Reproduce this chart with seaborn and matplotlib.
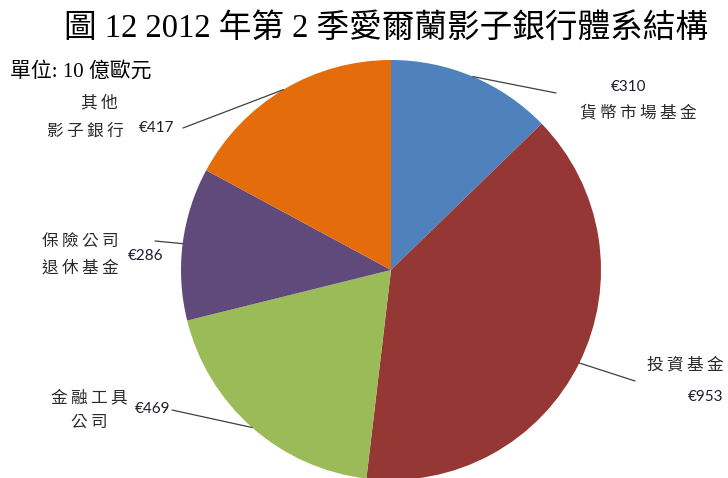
import numpy as np
import matplotlib
matplotlib.use('Agg')
import matplotlib.pyplot as plt
import seaborn as sns

# data (10 億歐元)
categories = ['貨幣市場基金', '投資基金', '金融工具公司', '保險公司退休基金', '其他影子銀行']
values = [310, 953, 469, 286, 417]
value_labels = ['€310', '€953', '€469', '€286', '€417']
colors = ['#4F81BD', '#953735', '#9BBB59', '#604A7B', '#E46C0A']

sns.set_theme(style='white')
plt.rcParams['font.family'] = ['Liberation Serif', 'Noto Sans CJK TC', 'DejaVu Sans']

W, H = 728, 478
fig = plt.figure(figsize=(W / 100, H / 100), dpi=100)
ax = fig.add_axes([0, 0, 1, 1])

def py(y):
    # pixel row -> data y
    return H - y

cx, cy, r = 391, 270, 210
wedges, _ = ax.pie(values, colors=colors, startangle=90, counterclock=False,
                   center=(cx, py(cy)), radius=r,
                   wedgeprops=dict(linewidth=0))
ax.set_xlim(0, W)
ax.set_ylim(0, H)
ax.set_aspect('equal')
ax.axis('off')

ts = '\u2009'
def spaced(s):
    return ts.join(s)

cjk = ['Noto Sans CJK TC', 'DejaVu Sans']
lab_col = '#2a2a2a'
val_col = '#1c1c2c'

# label layout: (name lines, name positions, value position, line end)
layout = [
    (['貨幣市場基金'], [(638, 113)], (629, 87), (556, 93), 'center'),
    (['投資基金'], [(685, 365)], (706, 397), (635, 381), 'center'),
    (['金融工具', '公司'], [(89, 398), (89, 422)], (153, 409), (172, 410), 'center'),
    (['保險公司', '退休基金'], [(80, 242), (80, 268)], (146, 256), (155, 241), 'center'),
    (['其他', '影子銀行'], [(99, 103), (85, 131)], (157, 128), (183, 128), 'center'),
]

for w, vl, (names, npos, vpos, lend, ha) in zip(wedges, value_labels, layout):
    mid = np.deg2rad((w.theta1 + w.theta2) / 2)
    x0 = w.center[0] + w.r * np.cos(mid)
    y0 = w.center[1] + w.r * np.sin(mid)
    ax.plot([x0, lend[0]], [y0, py(lend[1])], color='#404040', lw=0.9)
    for n, (nx, ny) in zip(names, npos):
        ax.text(nx, py(ny), spaced(n), ha=ha, va='center', fontsize=12,
                color=lab_col, family=cjk)
    ax.text(vpos[0], py(vpos[1]), vl, ha='center', va='center', fontsize=11,
            color=val_col, family=['Lato', 'DejaVu Sans'])

ax.text(386, py(29), '圖 12 2012 年第 2 季愛爾蘭影子銀行體系結構', ha='center', va='center',
        fontsize=23.5, color='black')
ax.text(10, py(72), '單位: 10 億歐元', ha='left', va='center', fontsize=15, color='black')

fig.savefig('out.png', dpi=100, facecolor='white')
